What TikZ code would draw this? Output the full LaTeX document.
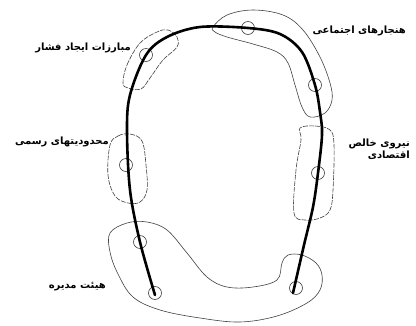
\documentclass[tikz,border=0pt]{standalone}
\usepackage{fontspec}
\newfontfamily\arabicfont[Script=Arabic, BoldFont={DejaVu Sans Bold}]{DejaVu Sans}
\TeXXeTstate=1
\tikzset{
  region/.style={draw=black!75, line width=0.6pt},
  dregion/.style={draw=black!75, line width=0.6pt, dash pattern=on 5pt off 1.2pt},
  dot/.style={circle, draw=black!75, line width=0.6pt, minimum size=13pt, inner sep=0pt},
  path/.style={line width=2.6pt, line cap=round, line join=round},
  lbl/.style={font=\arabicfont\bfseries\fontsize{10}{11.5}\selectfont, inner sep=0pt}
}
\begin{document}
\begin{tikzpicture}[x=1pt,y=-1pt]
\useasboundingbox (0,0) rectangle (416,325);
% regions
\draw[dregion] plot[smooth cycle, tension=0.6] coordinates {(123,83) (127,65) (140,43) (157,32) (168,30) (177,37) (177,47) (163,60) (150,78) (141,89) (128,88)};
\draw[region] plot[smooth cycle, tension=0.6] coordinates {(213,27) (227,15) (253,10) (283,15) (303,30) (320,57) (330,83) (332,100) (325,113) (310,117) (302,107) (295,85) (288,63) (277,52) (253,44) (227,37) (215,32)};
\draw[dregion] plot[smooth cycle, tension=0.6] coordinates {(110,145) (118,136) (130,134) (142,141) (146,165) (147,190) (140,202) (128,203) (115,196) (108,175)};
\draw[dregion] plot[smooth cycle, tension=0.6] coordinates {(300,128) (315,126) (330,130) (334,145) (333,190) (330,210) (320,218) (305,220) (294,213) (296,170) (301,140)};
\draw[region] plot[smooth cycle, tension=0.6] coordinates {(110,233) (127,223) (147,222) (167,230) (187,253) (207,277) (227,287) (253,287) (277,280) (282,263) (288,255) (302,255) (316,263) (322,275) (320,290) (307,303) (277,316) (240,322) (200,318) (160,310) (133,297) (118,274) (110,252)};
% circles
\node[dot] (c1) at (155,293) {};
\node[dot] (c2) at (140,242) {};
\node[dot] (c3) at (126,165) {};
\node[dot] (c4) at (146,55) {};
\node[dot] (c5) at (248,28) {};
\node[dot] (c6) at (315,85) {};
\node[dot] (c7) at (318,173) {};
\node[dot] (c8) at (296,288) {};
% thick path
\coordinate (p1) at (130,190);
\coordinate (p2) at (127,130);
\coordinate (p3) at (130,95);
\coordinate (p4) at (167,37);
\coordinate (p5) at (200,27);
\coordinate (p6) at (280,34);
\coordinate (p7) at (302,52);
\coordinate (p8) at (320,112);
\coordinate (p9) at (322,135);
\coordinate (p10) at (313,207);
\coordinate (p11) at (304,245);
\coordinate (e1) at (155,295);
\coordinate (e2) at (293,293);
\draw[path] plot[smooth, tension=0.55] coordinates {(e1) (c2.center) (p1) (p2) (p3) (c4.center) (p4) (p5) (c5.center) (p6) (p7) (c6.center) (p8) (p9) (c7.center) (p10) (p11) (e2)};
% labels
\node[lbl, anchor=east] (l1) at (131,48) {\beginR مبارزات ایجاد فشار\endR};
\node[lbl, anchor=east] (l2) at (406,31) {\beginR هنجارهای اجتماعی\endR};
\node[lbl, anchor=east] (l3) at (109,142) {\beginR محدودیتهای رسمی\endR};
\node[lbl, anchor=east, align=right] (l4) at (410,149) {\beginR نیروی خالص\endR\\\beginR اقتصادی\endR};
\node[lbl, anchor=east] (l5) at (106,287) {\beginR هیئت مدیره\endR};
\end{tikzpicture}
\end{document}
